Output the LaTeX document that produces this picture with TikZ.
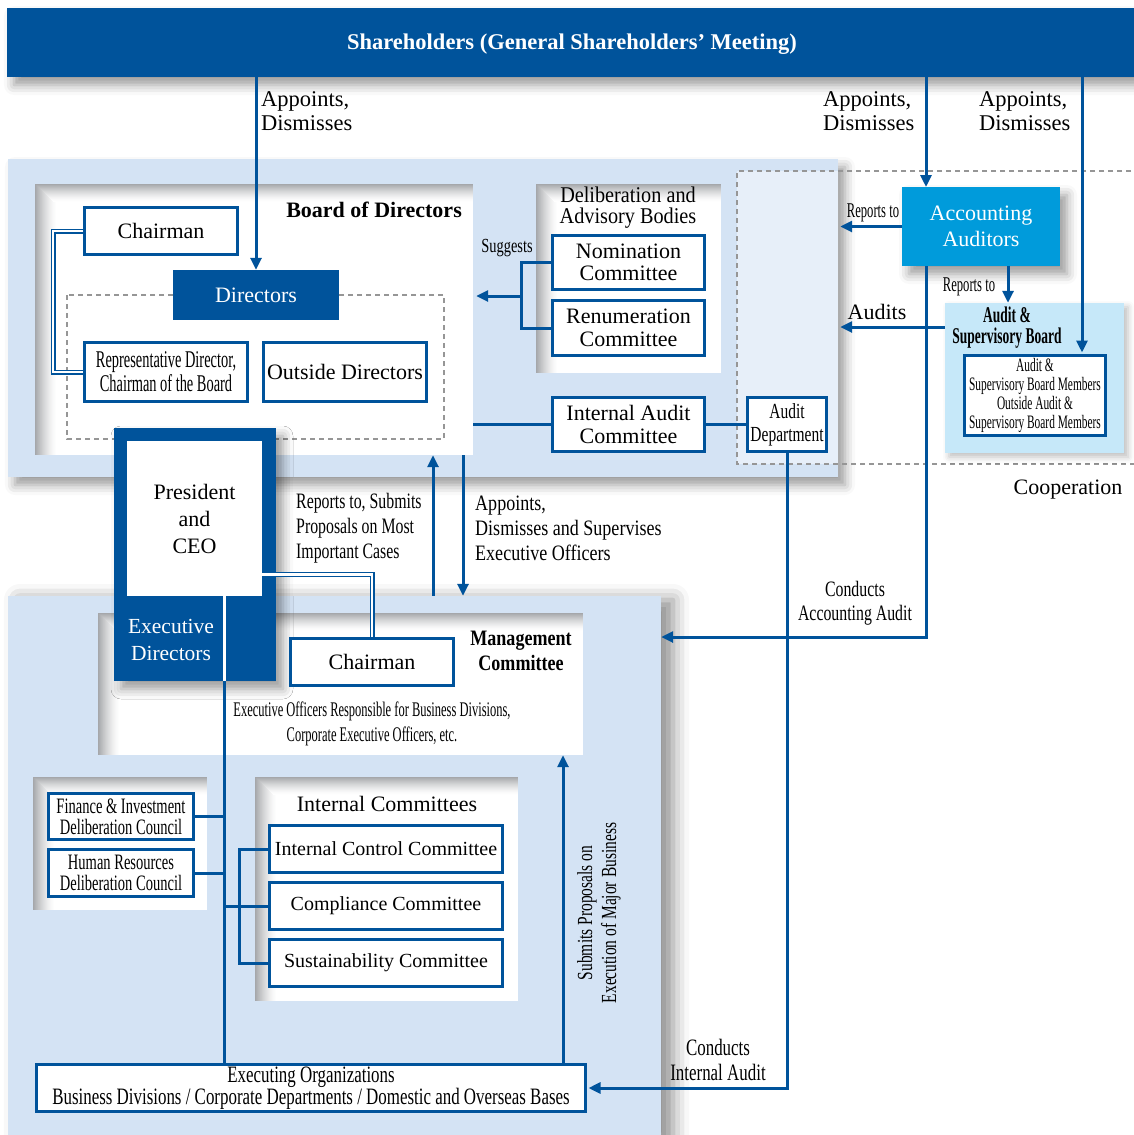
\documentclass[tikz,border=0pt]{standalone}
\usepackage{fontspec}
\setmainfont{Liberation Serif}
\newfontfamily\cA[FakeStretch=0.72]{Liberation Serif}
\newfontfamily\cB[FakeStretch=0.82]{Liberation Serif}
\newfontfamily\cC[FakeStretch=0.9]{Liberation Serif}
\newfontfamily\cD[FakeStretch=0.6]{Liberation Serif}
\newfontfamily\cE[FakeStretch=0.66]{Liberation Serif}
\usetikzlibrary{arrows.meta,shadows.blur}
\definecolor{bl}{RGB}{0,83,155}
\definecolor{lb}{RGB}{212,227,244}
\definecolor{lbb}{RGB}{231,239,249}
\definecolor{cy}{RGB}{0,155,219}
\definecolor{asbc}{RGB}{198,232,249}
\definecolor{pg}{RGB}{165,167,170}
\definecolor{dg}{RGB}{150,150,150}
\newcommand\fnt[2]{\fontsize{#1}{#2}\selectfont}
% inner shading of a panel: left and top edges
\newcommand\pshade[4]{%
  \foreach \k [evaluate=\k as \c using {int(100*((23-\k)/22)^1.5)}] in {22,21,...,1}{\fill[pg!\c!white] (#1,#2) rectangle ({#1+\k},#4);}%
  \foreach \k [evaluate=\k as \c using {int(100*((19-\k)/18)^1.5)}] in {18,17,...,1}{\fill[pg!\c!white] ({#1+\k},#2) rectangle (#3,{#2+\k});}%
}
\begin{document}
\begin{tikzpicture}[x=1pt,y=-1pt,
  box/.style={draw=bl,line width=3pt,fill=white,inner sep=0pt,align=center},
  dkbox/.style={fill=bl,text=white,inner sep=0pt,align=center},
  ln/.style={draw=bl,line width=3pt},
  arr/.style={ln,-{Triangle[length=12pt,width=11pt]}},
  dbl/.style={draw=bl,line width=1.4pt,double=white,double distance=2.2pt},
  lbl/.style={inner sep=0pt,align=center},
  lbll/.style={inner sep=0pt,align=left},
  region/.style={fill=lb,inner sep=0pt},
  dsh/.style={draw=dg,line width=2.5pt,dash pattern=on 5pt off 4pt},
  shd/.style={blur shadow={shadow xshift=7pt,shadow yshift=-8pt,shadow blur radius=10pt,shadow opacity=40}},
  panel/.style={fill=white,inner sep=0pt},
]
\useasboundingbox (0,0) rectangle (1134,1135);

% shareholders bar
\node[dkbox,shd,minimum width=1133pt,minimum height=69pt] (sh) at (573.5,42.5) {};
\node[lbl,text=white,font=\bfseries\fnt{22.5}{26}] (sht) at (572,44.5) {Shareholders (General Shareholders’ Meeting)};

% regions
\node[region,shd,minimum width=830pt,minimum height=318pt] (rb) at (423,318) {};
\node[fill=lbb,inner sep=0pt,minimum width=101pt,minimum height=293pt] (dz) at (787.5,317.5) {};
\draw[dsh] (1140,171) -- (737,171) -- (737,464) -- (1140,464);
\node[region,blur shadow={shadow xshift=12pt,shadow yshift=-4pt,shadow blur radius=16pt,shadow opacity=45},minimum width=653pt,minimum height=544pt] (rm) at (334.5,868) {};

% panels
\node[panel,minimum width=438pt,minimum height=271pt] (bp) at (254,319.5) {};
\pshade{35}{184}{473}{455}
\node[panel,minimum width=185pt,minimum height=189pt] (dp) at (628.5,278.5) {};
\pshade{536}{184}{721}{373}
\node[panel,minimum width=485pt,minimum height=142pt] (mp) at (340.5,684) {};
\pshade{98}{613}{583}{755}
\node[panel,minimum width=174pt,minimum height=133pt] (fp) at (120,843.5) {};
\pshade{33}{777}{207}{910}
\node[panel,minimum width=263pt,minimum height=224pt] (icp) at (386.5,889) {};
\pshade{255}{777}{518}{1001}

\draw[dsh] (67,295) rectangle (444,439);

% right side
\node[fill=cy,text=white,inner sep=0pt,align=center,shd,minimum width=158pt,minimum height=79pt,font=\fnt{22}{26}] (aa) at (981,226.5) {Accounting\\Auditors};
\node[fill=asbc,inner sep=0pt,blur shadow={shadow xshift=4pt,shadow yshift=-4pt,shadow blur radius=6pt,shadow opacity=25},minimum width=179pt,minimum height=150pt] (asb) at (1034.5,378) {};
\node[lbl,font=\cD\bfseries\fnt{22.5}{21}] (asbt) at (1007,327.5) {Audit \&\\Supervisory Board};
\node[box,minimum width=141pt,minimum height=80pt,font=\cD\fnt{19}{19}] (members) at (1035,395.5) {Audit \&\\Supervisory Board Members\\Outside Audit \&\\Supervisory Board Members};

% CEO
\node[fill=bl,inner sep=0pt,shd,minimum width=162pt,minimum height=253pt] (ceo) at (195,554.5) {};
\node[fill=white,inner sep=0pt,align=center,minimum width=135pt,minimum height=155pt,font=\fnt{22}{27}] (ceoIn) at (194.5,518.5) {President\\and\\CEO};
\node[lbl,text=white,font=\fnt{21.5}{27}] (ed) at (171,640) {Executive\\Directors};

% boxes
\node[box,minimum width=153pt,minimum height=47pt,font=\fnt{22}{26}] (chair1) at (161,231) {Chairman};
\node[dkbox,minimum width=166pt,minimum height=50pt,font=\fnt{22}{26}] (dirs) at (256,295) {Directors};
\node[box,minimum width=163pt,minimum height=59pt,font=\cD\fnt{24}{24}] (rep) at (166,372) {Representative Director,\\Chairman of the Board};
\node[box,minimum width=163pt,minimum height=59pt,font=\fnt{22}{26}] (outside) at (345,372) {Outside Directors};
\node[box,minimum width=152pt,minimum height=54pt,font=\fnt{22}{22.5}] (nom) at (628.5,262.5) {Nomination\\Committee};
\node[box,minimum width=152pt,minimum height=55pt,font=\fnt{22}{22.5}] (ren) at (628.5,328) {Renumeration\\Committee};
\node[box,minimum width=152pt,minimum height=54pt,font=\fnt{22}{23}] (iac) at (628.5,424.5) {Internal Audit\\Committee};
\node[box,minimum width=79pt,minimum height=54pt,font=\cA\fnt{21.5}{23}] (auddept) at (787,424.5) {Audit\\Department};
\node[box,minimum width=163pt,minimum height=47pt,font=\fnt{22}{26}] (chair2) at (372,662) {Chairman};
\node[box,minimum width=145pt,minimum height=46pt,font=\cE\fnt{22}{21}] (fin) at (121,816.5) {Finance \& Investment\\Deliberation Council};
\node[box,minimum width=145pt,minimum height=47pt,font=\cE\fnt{22}{21}] (hr) at (121,873) {Human Resources\\Deliberation Council};
\node[box,minimum width=233pt,minimum height=47pt,font=\fnt{20}{24}] (icc) at (386,849) {Internal Control Committee};
\node[box,minimum width=233pt,minimum height=47pt,font=\fnt{20}{24}] (comp) at (386,906) {Compliance Committee};
\node[box,minimum width=233pt,minimum height=47pt,font=\fnt{20}{24}] (sust) at (386,963) {Sustainability Committee};
\node[box,minimum width=549pt,minimum height=47pt,font=\cA\fnt{23.5}{21.5}] (exec) at (311,1088) {Executing Organizations\\Business Divisions / Corporate Departments / Domestic and Overseas Bases};

% titles and labels
\node[lbl,font=\bfseries\fnt{22}{26},anchor=east] (bt) at (462,210) {Board of Directors};
\node[lbl,font=\cC\fnt{22.5}{21}] (dt) at (628,208) {Deliberation and\\Advisory Bodies};
\node[lbl,font=\cB\bfseries\fnt{22}{25}] (mt) at (521,651) {Management\\Committee};
\node[lbl,font=\cD\fnt{20.8}{25}] (eo) at (372,724) {Executive Officers Responsible for Business Divisions,\\Corporate Executive Officers, etc.};
\node[lbl,font=\fnt{22}{26}] (ict) at (387,804) {Internal Committees};
\node[lbll,font=\fnt{22.5}{24},anchor=west] (l1) at (261,111) {Appoints,\\Dismisses};
\node[lbll,font=\fnt{22.5}{24},anchor=west] (l2) at (823,111) {Appoints,\\Dismisses};
\node[lbll,font=\fnt{22.5}{24},anchor=west] (l3) at (979,111) {Appoints,\\Dismisses};
\node[lbl,font=\cA\fnt{20}{24}] (sg) at (507,248) {Suggests};
\node[lbl,font=\cD\fnt{21}{20}] (rp1) at (873,213) {Reports to};
\node[lbl,font=\cD\fnt{21}{20}] (rp2) at (969,287) {Reports to};
\node[lbl,font=\fnt{22}{26}] (au) at (877,312) {Audits};
\node[lbl,font=\fnt{22}{26}] (co) at (1068,490) {Cooperation};
\node[lbll,font=\cA\fnt{22}{25},anchor=west] (rs) at (296,528) {Reports to, Submits\\Proposals on Most\\Important Cases};
\node[lbll,font=\cB\fnt{22}{25},anchor=west] (ad) at (475,528) {Appoints,\\Dismisses and Supervises\\Executive Officers};
\node[lbl,font=\cA\fnt{22}{24}] (ca) at (855,603) {Conducts\\Accounting Audit};
\node[lbl,font=\cA\fnt{23.5}{25}] (ci) at (718,1060) {Conducts\\Internal Audit};
\node[lbl,font=\cA\fnt{21.5}{24},rotate=90] (sp) at (599,913) {Submits Proposals on\\Execution of Major Business};

% coordinates
\coordinate (aaIn) at (926,187);
\coordinate (mi) at (1082,0);
\coordinate (cb) at (53,0);
\coordinate (nb) at (521,296);
\coordinate (cc) at (926,637);
\coordinate (rp) at (1008,0);
\coordinate (audy) at (0,327);
\coordinate (ua) at (433,0);
\coordinate (da) at (463,0);
\coordinate (cj) at (372,574.5);
\coordinate (dv) at (224,596);
\coordinate (bk) at (239,0);
\coordinate (sa) at (563,0);

% connectors
\draw[arr] (sh.south -| dirs.north) -- (dirs.north);
\draw[arr] (sh.south -| aaIn) -- (aaIn);
\draw[arr] (sh.south -| mi) -- ([yshift=1.5pt]members.north -| mi);
\draw[dbl] (chair1.west) -- (chair1.west -| cb) -- (rep.west -| cb) -- (rep.west);
\draw[ln] (nom.west) -- (nom.west -| nb) -- (ren.west -| nb) -- (ren.west);
\draw[arr] (nb) -- ([xshift=3pt]nb -| bp.east);
\draw[ln] (iac.west -| bp.east) -- (iac.west);
\draw[ln] (iac.east) -- (auddept.west);
\draw[arr] (auddept.south) -- (auddept.south |- exec.east) -- ([xshift=1.5pt]exec.east);
\draw[arr] (aa.west) -- ([xshift=2pt]aa.west -| dz.east);
\draw[arr] (aa.south -| rp) -- (asb.north -| rp);
\draw[arr] (aa.south -| cc) -- (cc) -- (cc -| rm.east);
\draw[arr] (asb.west |- audy) -- ([xshift=2pt]dz.east |- audy);
\draw[arr] (rm.north -| ua) -- (bp.south -| ua);
\draw[arr] (bp.south -| da) -- (rm.north -| da);
\draw[dbl] (ceoIn.east |- cj) -- (cj) -- (chair2.north);
\draw[draw=white,line width=3pt] (dv) -- (dv |- ceo.south);
\draw[ln] (ceo.south -| dv) -- (exec.north -| dv);
\draw[ln] (fin.east) -- (fin.east -| dv);
\draw[ln] (hr.east) -- (hr.east -| dv);
\draw[ln] (comp.west -| dv) -- (comp.west);
\draw[ln] (icc.west) -- (icc.west -| bk) -- (sust.west -| bk) -- (sust.west);
\draw[arr] (exec.north -| sa) -- (mp.south -| sa);
\end{tikzpicture}
\end{document}
